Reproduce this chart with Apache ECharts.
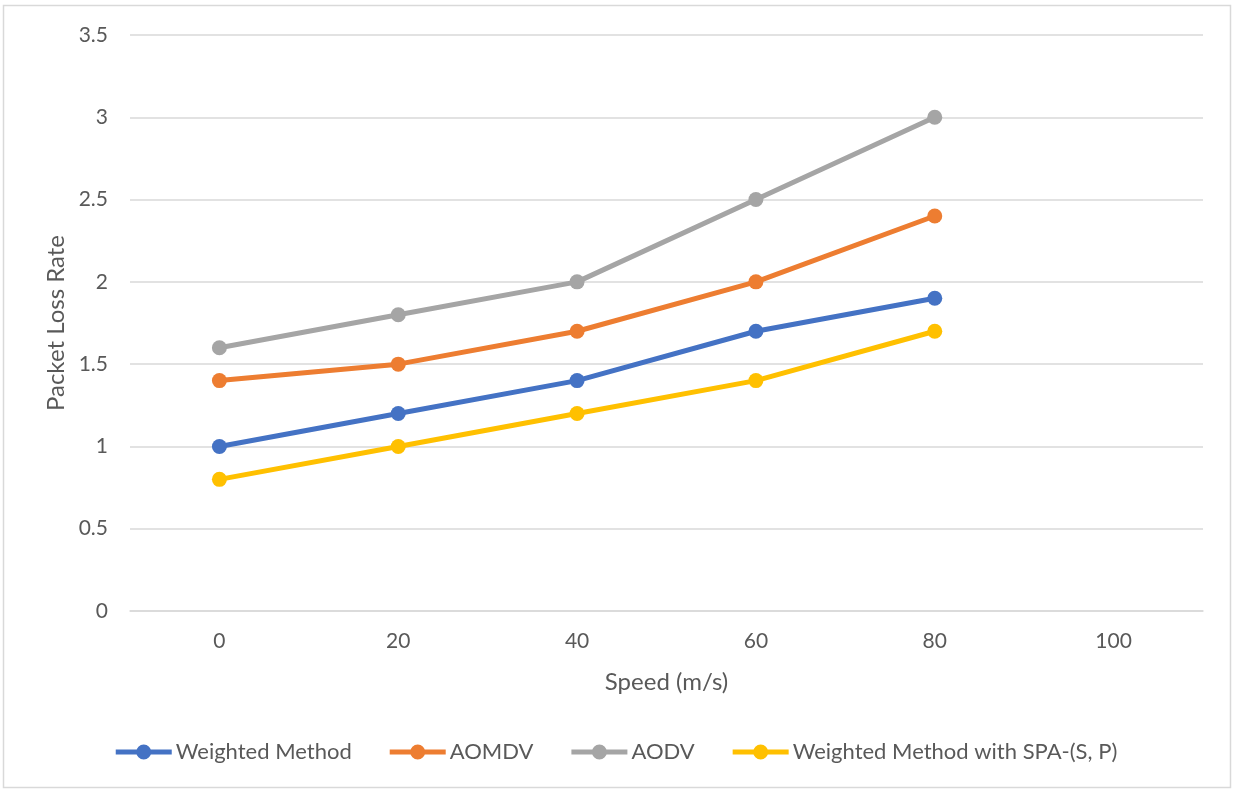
<!DOCTYPE html>
<html>
<head>
<meta charset="utf-8">
<script src="https://cdn.jsdelivr.net/npm/echarts@6/dist/echarts.min.js"></script>
<style>
  html, body { margin: 0; padding: 0; background: #fff; }
  #chart { width: 1233px; height: 790px; }
</style>
</head>
<body>
<div id="chart"></div>
<script>
// Speed categories (m/s); 100 carries no measurements
const speeds = ['0', '20', '40', '60', '80', '100'];
const weightedMethod = [1.0, 1.2, 1.4, 1.7, 1.9];
const aomdv = [1.4, 1.5, 1.7, 2.0, 2.4];
const aodv = [1.6, 1.8, 2.0, 2.5, 3.0];
const weightedSpa = [0.8, 1.0, 1.2, 1.4, 1.7];
const seriesNames = ['Weighted Method', 'AOMDV', 'AODV', 'Weighted Method with SPA-(S, P)'];

const FONT = 'Lato';
const TEXT = '#595959';

// Legend marker: thick line with a dot in the middle (56 x 16 box)
const LEGEND_ICON = 'path://M0,5.5 L56,5.5 L56,10.5 L0,10.5 Z M20.5,8 A7.5,7.5 0 1,1 35.5,8 A7.5,7.5 0 1,1 20.5,8 Z';

function lineSeries(name, data, color) {
  return {
    name: name,
    type: 'line',
    data: data,
    symbol: 'circle',
    symbolSize: 15,
    lineStyle: { width: 5, color: color, cap: 'round', join: 'round' },
    itemStyle: { color: color },
    emphasis: { disabled: true }
  };
}

const chart = echarts.init(document.getElementById('chart'));
chart.setOption({
  animation: false,
  textStyle: { fontFamily: FONT },
  graphic: [{
    type: 'rect',
    shape: { x: 3.5, y: 5.5, width: 1227, height: 782 },
    style: { fill: 'none', stroke: '#d9d9d9', lineWidth: 1.5 },
    silent: true
  }],
  grid: { left: 130, right: 30, top: 35, bottom: 179, containLabel: false },
  legend: {
    bottom: 22,
    left: 'center',
    itemWidth: 56,
    itemHeight: 16,
    itemGap: 38,
    textStyle: { fontFamily: FONT, fontSize: 22, color: TEXT, padding: [0, 0, 0, -1] },
    data: seriesNames.map(function (n) { return { name: n, icon: LEGEND_ICON }; })
  },
  xAxis: {
    type: 'category',
    data: speeds,
    boundaryGap: true,
    name: 'Speed (m/s)',
    nameLocation: 'middle',
    nameGap: 59,
    nameTextStyle: { fontFamily: FONT, fontSize: 24, color: TEXT },
    axisLine: { show: true, lineStyle: { color: '#d9d9d9', width: 1.5 } },
    axisTick: { show: false },
    axisLabel: { fontFamily: FONT, fontSize: 21, color: TEXT, margin: 20 }
  },
  yAxis: {
    type: 'value',
    min: 0,
    max: 3.5,
    interval: 0.5,
    name: 'Packet Loss Rate',
    nameLocation: 'middle',
    nameGap: 62,
    nameRotate: 90,
    nameTextStyle: { fontFamily: FONT, fontSize: 24, color: TEXT },
    axisLine: { show: false },
    axisTick: { show: false },
    axisLabel: { fontFamily: FONT, fontSize: 21, color: TEXT, margin: 22 },
    splitLine: { lineStyle: { color: '#d9d9d9', width: 1.5 } }
  },
  series: [
    lineSeries(seriesNames[0], weightedMethod, '#4472C4'),
    lineSeries(seriesNames[1], aomdv, '#ED7D31'),
    lineSeries(seriesNames[2], aodv, '#A5A5A5'),
    lineSeries(seriesNames[3], weightedSpa, '#FFC000')
  ]
});
</script>
</body>
</html>
